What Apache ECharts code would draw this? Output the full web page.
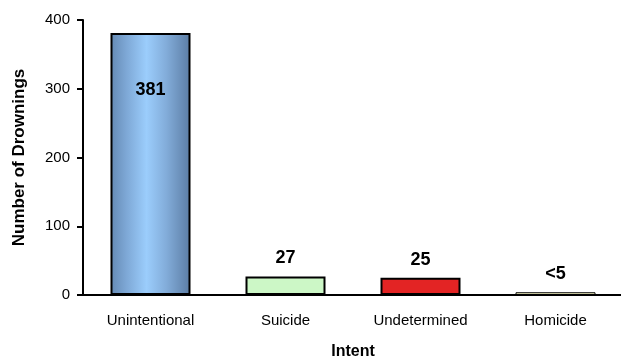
<!DOCTYPE html>
<html>
<head>
<meta charset="utf-8">
<script src="https://cdn.jsdelivr.net/npm/echarts@6/dist/echarts.min.js"></script>
<style>
  html, body { margin: 0; padding: 0; background: #ffffff; }
  #chart { width: 621px; height: 362px; }
</style>
</head>
<body>
<div id="chart"></div>
<script>
// Drownings by intent
const categories = ['Unintentional', 'Suicide', 'Undetermined', 'Homicide'];
const drownings = [381, 27, 25, 4];
const valueLabels = ['381', '27', '25', '<5'];
const yTicks = [0, 100, 200, 300, 400];

const FONT = '"Liberation Sans", Arial, sans-serif';

const blueGradient = new echarts.graphic.LinearGradient(0, 0, 1, 0, [
  { offset: 0, color: '#6489b3' },
  { offset: 0.2, color: '#7ea8d6' },
  { offset: 0.45, color: '#9bcdfc' },
  { offset: 0.7, color: '#82acd9' },
  { offset: 1, color: '#5b7ca3' }
]);

const fills = [blueGradient, '#ccf7c6', '#e32424', '#ffffcc'];
const borders = [2, 2, 2, 1];

const barData = drownings.map((v, i) => ({
  value: v,
  itemStyle: { color: fills[i], borderWidth: borders[i] },
  label: i === 0
    ? { position: 'insideTop', distance: 48 }
    : { position: 'top', distance: 9 }
}));

const chart = echarts.init(document.getElementById('chart'), null, { renderer: 'canvas' });
chart.setOption({
  animation: false,
  backgroundColor: '#ffffff',
  grid: { left: 83, right: -2, top: 20, bottom: 67, containLabel: false, outerBoundsMode: 'none' },
  xAxis: {
    type: 'category',
    data: categories,
    name: 'Intent',
    nameLocation: 'middle',
    nameGap: 49,
    nameTextStyle: { fontFamily: FONT, fontSize: 16, fontWeight: 'bold', color: '#000' },
    axisLine: { lineStyle: { color: '#000', width: 2 } },
    axisTick: { show: false },
    axisLabel: { fontFamily: FONT, fontSize: 15, color: '#000', margin: 18 }
  },
  yAxis: {
    type: 'value',
    min: yTicks[0],
    max: yTicks[yTicks.length - 1],
    interval: 100,
    name: 'Number of Drownings',
    nameLocation: 'middle',
    nameGap: 55,
    nameTextStyle: { fontFamily: FONT, fontSize: 17, fontWeight: 'bold', color: '#000' },
    axisLine: { show: true, lineStyle: { color: '#000', width: 2 } },
    axisTick: { show: true, length: 6, lineStyle: { color: '#000', width: 2 } },
    axisLabel: { fontFamily: FONT, fontSize: 15, color: '#000', margin: 13 },
    splitLine: { show: false }
  },
  series: [{
    type: 'bar',
    data: barData,
    barWidth: 80,
    itemStyle: { borderColor: '#000', borderWidth: 2 },
    label: {
      show: true,
      fontFamily: FONT,
      fontSize: 18,
      fontWeight: 'bold',
      color: '#000',
      formatter: p => valueLabels[p.dataIndex]
    }
  }]
});
</script>
</body>
</html>
